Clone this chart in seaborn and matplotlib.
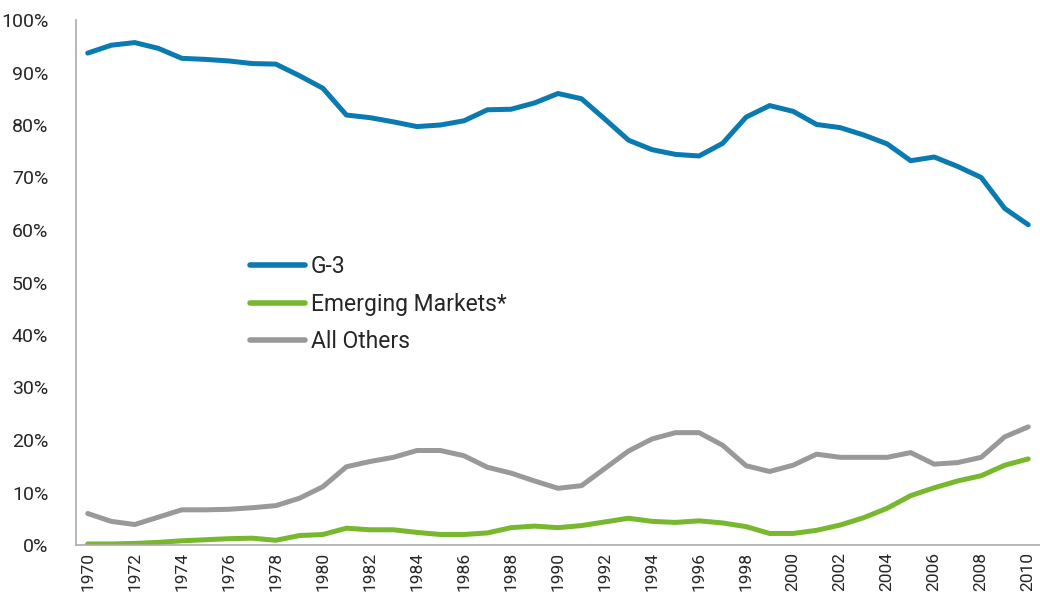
import numpy as np
import pandas as pd
import matplotlib
matplotlib.use("Agg")
import matplotlib.pyplot as plt
import seaborn as sns
from matplotlib.ticker import PercentFormatter

# Data (share in %)
years = list(range(1970, 2011))
g3 = [93.7, 95.2, 95.7, 94.6, 92.7, 92.5, 92.2, 91.7, 91.6, 89.4,
      87.0, 81.9, 81.4, 80.6, 79.7, 80.0, 80.8, 82.9, 83.0, 84.2,
      86.0, 85.0, 81.1, 77.1, 75.3, 74.4, 74.1, 76.5, 81.5, 83.7,
      82.6, 80.1, 79.5, 78.1, 76.4, 73.2, 73.9, 72.1, 70.0, 64.1,
      61.0]
emerging = [0.2, 0.2, 0.3, 0.5, 0.8, 1.0, 1.2, 1.3, 0.9, 1.8,
            2.0, 3.2, 2.9, 2.9, 2.4, 2.0, 2.0, 2.3, 3.3, 3.6,
            3.3, 3.7, 4.4, 5.1, 4.5, 4.3, 4.6, 4.2, 3.5, 2.2,
            2.2, 2.8, 3.8, 5.2, 7.0, 9.4, 10.9, 12.2, 13.2, 15.2,
            16.4]
others = [6.0, 4.5, 3.9, 5.3, 6.7, 6.7, 6.8, 7.1, 7.5, 8.9,
          11.1, 14.9, 15.9, 16.7, 18.0, 18.0, 17.0, 14.8, 13.7, 12.2,
          10.8, 11.3, 14.6, 17.9, 20.2, 21.4, 21.4, 19.0, 15.1, 14.0,
          15.2, 17.3, 16.7, 16.7, 16.7, 17.6, 15.4, 15.7, 16.7, 20.6,
          22.5]
series_names = ["G-3", "Emerging Markets*", "All Others"]
colors = ["#0a7bb0", "#77b82e", "#999999"]

df = pd.DataFrame({"year": years, series_names[0]: g3,
                   series_names[1]: emerging, series_names[2]: others})
long = df.melt(id_vars="year", var_name="series", value_name="share")

sns.set_style("white")
plt.rcParams["font.family"] = ["Roboto", "DejaVu Sans"]

fig = plt.figure(figsize=(10.4, 5.97), dpi=100)
ax = fig.add_axes([76 / 1040, 52 / 597, 1 - 76 / 1040, 525 / 597])

sns.lineplot(data=long, x="year", y="share", hue="series",
             hue_order=series_names, palette=colors, linewidth=3.6,
             ax=ax, legend=True)

ax.set_xlim(1969.5, 2010.5)
ax.set_ylim(0, 100)
ax.set_xticks(years[::2])
ax.set_xticklabels([str(y) for y in years[::2]], rotation=90, fontsize=12.5)
ax.set_yticks(range(0, 101, 10))
ax.yaxis.set_major_formatter(PercentFormatter(decimals=0))
ax.tick_params(axis="y", labelsize=14, length=0, pad=20)
ax.tick_params(axis="x", length=0, pad=5)
ax.set_xlabel("")
ax.set_ylabel("")

for side in ["top", "right"]:
    ax.spines[side].set_visible(False)
for side in ["left", "bottom"]:
    ax.spines[side].set_color("#aaaaaa")
    ax.spines[side].set_linewidth(1.2)

leg = ax.legend(loc="upper left", bbox_to_anchor=(250 / 1040, 1 - 255 / 597),
                bbox_transform=fig.transFigure, frameon=False, fontsize=16.5,
                handlelength=2.4, handletextpad=0.25, labelspacing=0.64,
                borderpad=0, borderaxespad=0)
for line in leg.get_lines():
    line.set_linewidth(4)

fig.savefig("out.png", dpi=100)
